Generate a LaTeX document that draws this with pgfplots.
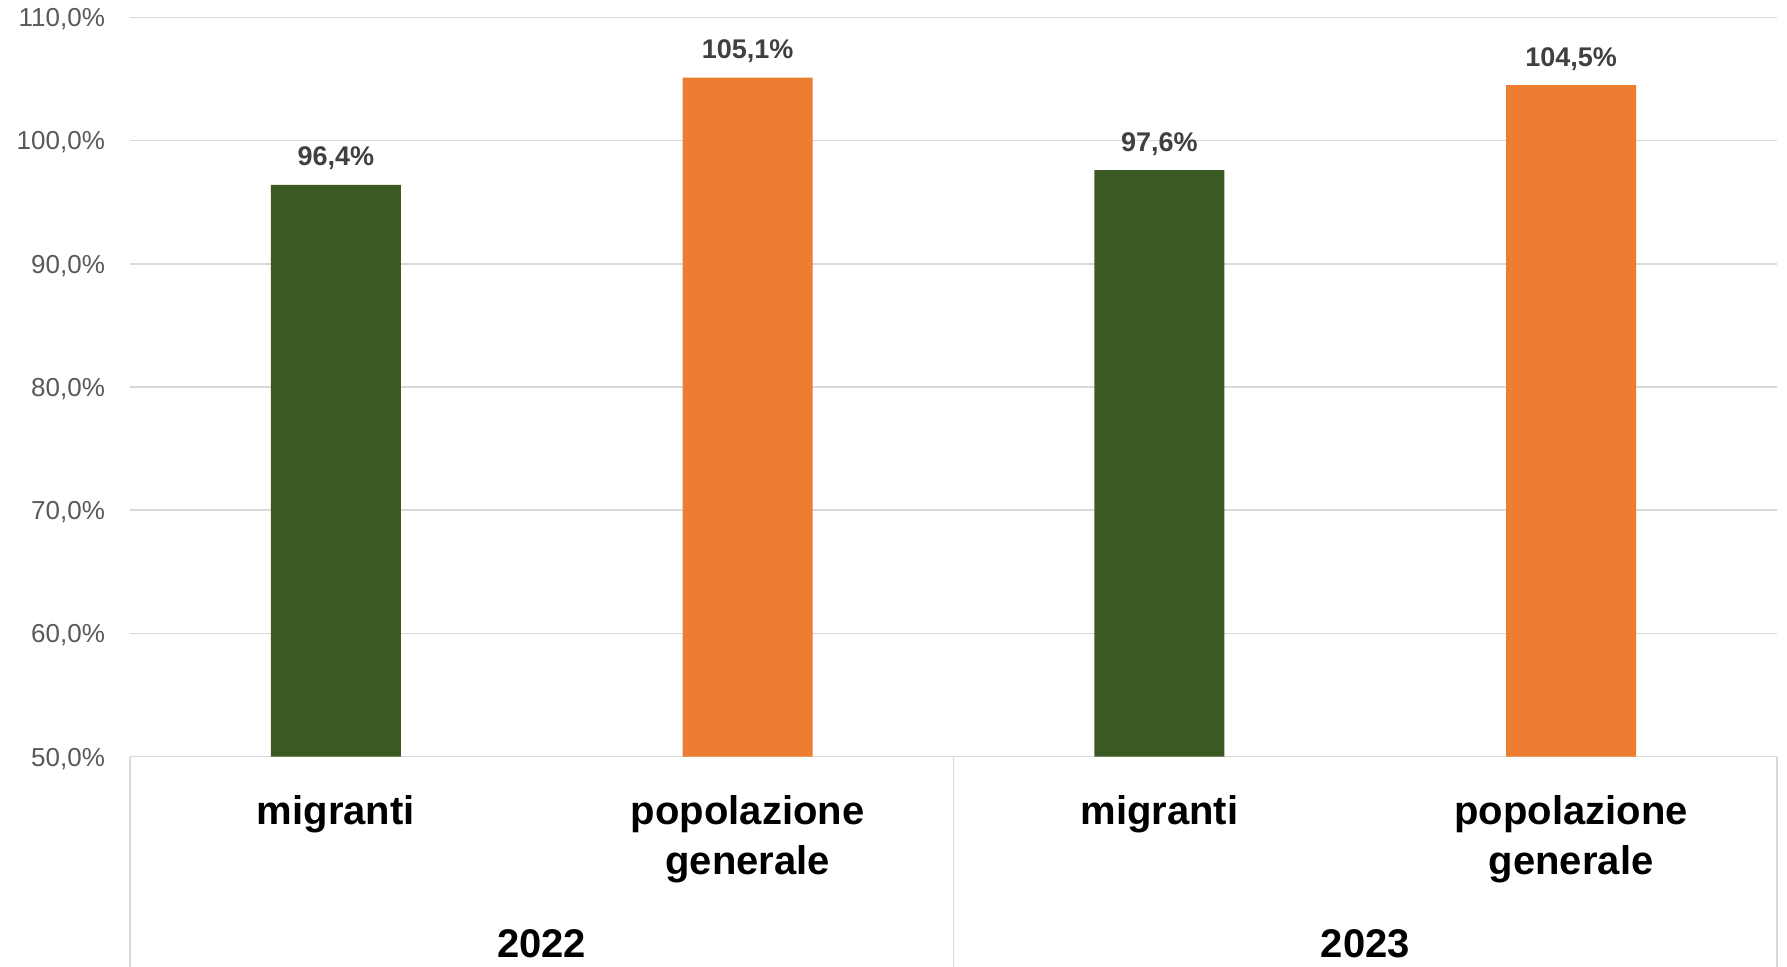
\documentclass[border=0pt]{standalone}
\usepackage{fontspec}
\setmainfont{Liberation Sans}
\usepackage{pgfplots}
\pgfplotsset{compat=1.18}
\usetikzlibrary{calc}
\definecolor{verde}{HTML}{3B5A23}
\definecolor{arancio}{HTML}{ED7D31}
\definecolor{griglia}{HTML}{D9D9D9}
\definecolor{tickcol}{HTML}{595959}
\definecolor{etich}{HTML}{404040}

\begin{document}
\begin{tikzpicture}
\begin{axis}[
  scale only axis,
  width=823.5pt, height=369.7pt,
  xmin=-0.5, xmax=3.5,
  ymin=50, ymax=110,
  ytick={50,60,...,110},
  xtick={0,1,2,3},
  xticklabels={migranti,{popolazione\\generale},migranti,{popolazione\\generale}},
  xticklabel style={align=center, font=\fontsize{20}{25}\selectfont\bfseries, anchor=north, yshift=-15.7pt},
  yticklabel={\pgfmathprintnumber[fixed,fixed zerofill,precision=1,use comma]{\tick}\%},
  yticklabel style={font=\fontsize{13}{15}\selectfont, text=tickcol, xshift=-9pt, yshift=-1pt},
  /pgf/number format/assume math mode=true,
  major tick length=0pt,
  axis line style={draw=none},
  ymajorgrids, grid style={griglia, line width=0.75pt},
  ybar, bar width=65pt, bar shift=0pt,
  nodes near coords={\pgfmathprintnumber[fixed,fixed zerofill,precision=1,use comma]{\pgfplotspointmeta}\%},
  every node near coord/.append style={font=\fontsize{13.5}{16}\selectfont\bfseries, text=etich, anchor=base, yshift=9.5pt},
]
% migranti
\addplot[fill=verde, draw=none] coordinates {(0,96.4) (2,97.6)};
% popolazione generale
\addplot[fill=arancio, draw=none] coordinates {(1,105.1) (3,104.5)};
\coordinate (SW) at (rel axis cs:0,0);
\coordinate (NE) at (rel axis cs:1,1);
\coordinate (M) at (axis cs:1.5,50);
\coordinate (Y1) at (axis cs:0.5,50);
\coordinate (Y2) at (axis cs:2.5,50);
\end{axis}
\draw[griglia, line width=0.75pt] (SW) -- ++(0,-105pt);
\draw[griglia, line width=0.75pt] (M) -- ++(0,-105pt);
\draw[griglia, line width=0.75pt] (SW -| NE) -- ++(0,-105pt);
\node[anchor=base, font=\fontsize{20}{24}\selectfont\bfseries] at ($(Y1)+(0,-100.3pt)$) {2022};
\node[anchor=base, font=\fontsize{20}{24}\selectfont\bfseries] at ($(Y2)+(0,-100.3pt)$) {2023};
\pgfresetboundingbox
\path[use as bounding box] ($(SW)+(-65pt,-105pt)$) rectangle ($(NE)+(5pt,8.65pt)$);
\end{tikzpicture}
\end{document}
